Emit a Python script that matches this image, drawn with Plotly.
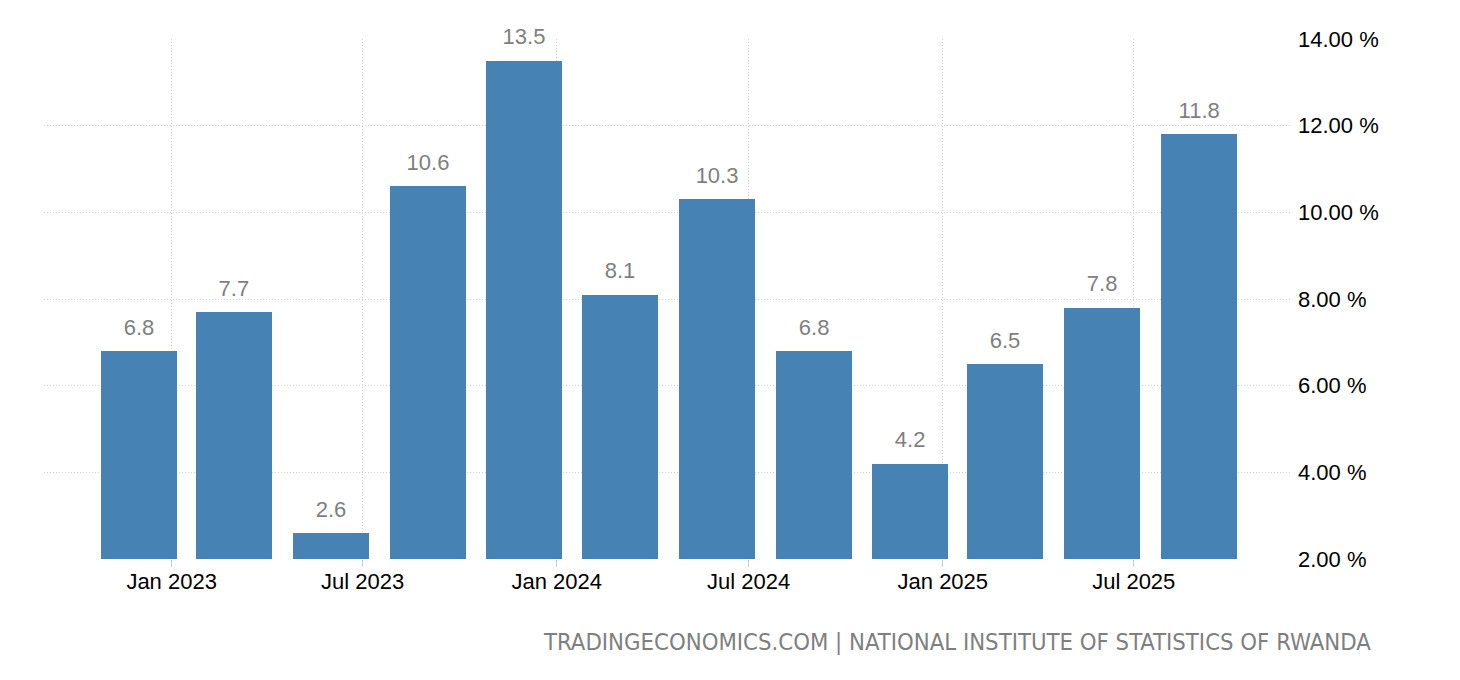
import plotly.graph_objects as go

dates = ["2022-12-01", "2023-03-01", "2023-06-01", "2023-09-01", "2023-12-01", "2024-03-01",
         "2024-06-01", "2024-09-01", "2024-12-01", "2025-03-01", "2025-06-01", "2025-09-01"]
values = [6.8, 7.7, 2.6, 10.6, 13.5, 8.1, 10.3, 6.8, 4.2, 6.5, 7.8, 11.8]
x_ticks = ["2023-01-01", "2023-07-01", "2024-01-01", "2024-07-01", "2025-01-01", "2025-07-01"]
x_tick_labels = ["Jan 2023", "Jul 2023", "Jan 2024", "Jul 2024", "Jan 2025", "Jul 2025"]
y_ticks = [2, 4, 6, 8, 10, 12, 14]
y_tick_labels = [f"{v:.2f} %" for v in y_ticks]
source = "TRADINGECONOMICS.COM | NATIONAL INSTITUTE OF STATISTICS OF RWANDA"

FONT = "Liberation Sans"

fig = go.Figure()
fig.add_trace(go.Bar(
    x=dates, y=values,
    marker=dict(color="#4682b4", line=dict(width=0)),
    width=72 * 24 * 3600 * 1000,
    hoverinfo="x+y",
))
fig.add_trace(go.Scatter(
    x=dates, y=values,
    mode="markers+text",
    marker=dict(size=16, color="rgba(0,0,0,0)"),
    text=[f"{v:.1f}" for v in values],
    textposition="top center",
    textfont=dict(family=FONT, size=22, color="#7f7f7f"),
    cliponaxis=False,
    hoverinfo="skip",
))

fig.update_layout(
    width=1444, height=664,
    margin=dict(l=36, r=160, t=31, b=113),
    plot_bgcolor="white", paper_bgcolor="white",
    showlegend=False,
    bargap=0,
    xaxis=dict(
        type="date",
        range=["2022-09-02", "2025-11-28"],
        tickvals=x_ticks, ticktext=x_tick_labels,
        showgrid=True, gridcolor="#d0d0d0", griddash="1px,2px", gridwidth=1,
        ticks="outside", ticklen=7, tickcolor="#cccccc",
        tickfont=dict(family=FONT, size=22, color="#000000"),
        ticklabelstandoff=-4,
        showline=False, zeroline=False,
    ),
    yaxis=dict(
        side="right",
        range=[2, 14],
        tickvals=y_ticks, ticktext=y_tick_labels,
        showgrid=True, gridcolor="#d0d0d0", griddash="1px,2px", gridwidth=1,
        tickfont=dict(family=FONT, size=22, color="#000000"),
        ticklabelstandoff=5,
        zeroline=False, showline=False,
    ),
    annotations=[dict(
        text=source,
        xref="paper", yref="paper", x=1.065, y=-0.16,
        xanchor="right", yanchor="middle", showarrow=False,
        font=dict(family="DejaVu Sans Condensed", size=23.7, color="#7f7f7f"),
    )],
)

fig.write_html("out.html")
